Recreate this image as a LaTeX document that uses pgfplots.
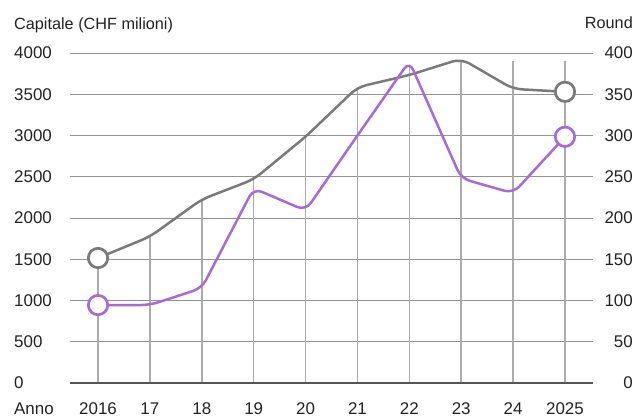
\documentclass[border=0pt]{standalone}
\usepackage{pgfplots}
\pgfplotsset{compat=1.18}
\usepackage{fontspec}
\setmainfont{Liberation Sans}
\definecolor{linegray}{HTML}{7A7A7A}
\definecolor{purp}{HTML}{A66BD7}
\definecolor{hgrid}{HTML}{939393}
\definecolor{vgrid}{HTML}{ABABAB}
\definecolor{basegray}{HTML}{555555}
\definecolor{txt}{HTML}{222222}
\begin{document}
\begin{tikzpicture}[x=1bp,y=1bp]
\useasboundingbox (-70,-34) rectangle (570,383);
\begin{axis}[at={(0,0)}, anchor=south west, width=523bp, height=330bp, scale only axis,
 xmin=2015.46, xmax=2025.54, ymin=0, ymax=4000,
 xtick={2016,2017,2018,2019,2020,2021,2022,2023,2024,2025},
 xticklabels={2016,17,18,19,20,21,22,23,24,2025},
 ytick={0,500,1000,1500,2000,2500,3000,3500,4000},
 axis line style={draw=none}, major tick length=0pt,
 ymajorgrids, grid style={hgrid, line width=1bp},
 /pgf/number format/assume math mode=true,
 /pgf/number format/1000 sep={},
 scaled y ticks=false,
 yticklabel style={anchor=west, inner sep=0pt, xshift=-56bp, text=txt, font=\fontsize{17}{17}\selectfont},
 xticklabel style={anchor=base, inner sep=0pt, yshift=-31bp, text=txt, font=\fontsize{17}{17}\selectfont},
 clip=false,
]
\addplot[ycomb, vgrid, line width=1.5bp, mark=none] coordinates {
 (2016,1515) (2017,1774) (2018,2226) (2019,2468) (2020,2985)
 (2021,3575) (2022,3840) (2023,3915) (2024,3900) (2025,3900)};
\draw[basegray, line width=2bp] (rel axis cs:0,0) -- (rel axis cs:1,0);
\addplot[linegray, line width=2.5bp, sharp plot, rounded corners=9bp, mark=none] coordinates {
 (2016,1515) (2017,1774) (2018,2226) (2019,2468) (2020,2985)
 (2021,3585) (2022,3733) (2023,3930) (2024,3565) (2025,3530)};
\end{axis}
\begin{axis}[at={(0,0)}, anchor=south west, width=523bp, height=330bp, scale only axis,
 xmin=2015.46, xmax=2025.54, ymin=0, ymax=400,
 hide x axis, axis y line*=right,
 ytick={0,50,100,150,200,250,300,350,400},
 axis line style={draw=none}, major tick length=0pt,
 /pgf/number format/assume math mode=true,
 yticklabel style={anchor=east, inner sep=0pt, xshift=40bp, text=txt, font=\fontsize{17}{17}\selectfont},
 clip=false,
 every mark/.append style={line width=2.7bp, fill=white},
]
\addplot[purp, line width=2.5bp, sharp plot, rounded corners=9bp, mark=none] coordinates {
 (2016,94.5) (2017,94.5) (2018,115) (2019,236) (2020,209)
 (2021,300) (2022,390) (2023,248) (2024,230) (2025,298.5)};
\addplot[only marks, mark=*, mark size=9.7bp, line width=2.7bp, mark options={fill=white, draw=linegray, line width=2.7bp}] coordinates {
 (2016,151.5) (2025,353)};
\addplot[only marks, mark=*, mark size=9.7bp, line width=2.7bp, mark options={fill=white, draw=purp, line width=2.7bp}] coordinates {
 (2016,94.5) (2025,298.5)};
\end{axis}
\node[anchor=base west, inner sep=0pt, text=txt, font=\fontsize{16.3}{16.3}\selectfont] at (-56,354) {Capitale (CHF milioni)};
\node[anchor=base east, inner sep=0pt, text=txt, font=\fontsize{16.3}{16.3}\selectfont] at (563,355) {Round};
\node[anchor=base west, inner sep=0pt, text=txt, font=\fontsize{17}{17}\selectfont] at (-56,-31) {Anno};
\end{tikzpicture}
\end{document}
